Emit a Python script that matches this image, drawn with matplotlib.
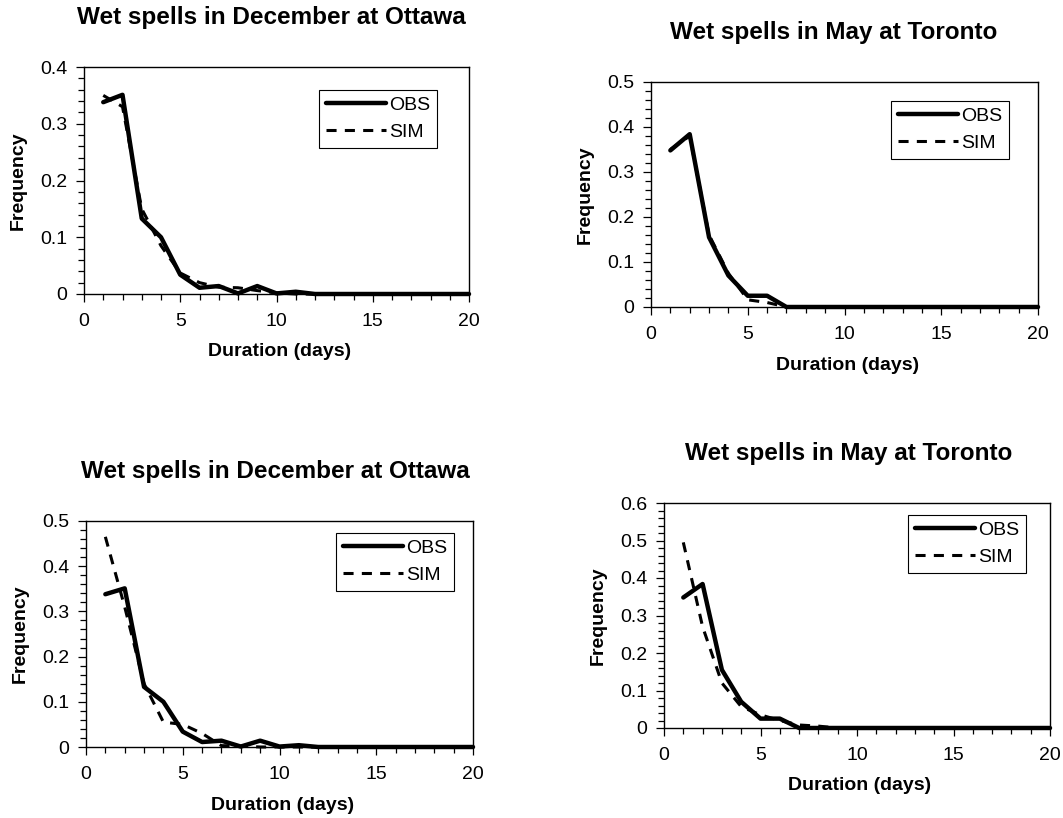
import matplotlib
matplotlib.use("Agg")
import matplotlib.pyplot as plt
from matplotlib.ticker import MultipleLocator, FuncFormatter

plt.rcParams['font.family'] = ['Liberation Sans', 'DejaVu Sans']

# ---------------- data ----------------
duration = list(range(1, 21))

dec_ottawa_obs = [0.338, 0.351, 0.133, 0.100, 0.034, 0.011, 0.014, 0.001, 0.014, 0.001,
                  0.004, 0, 0, 0, 0, 0, 0, 0, 0, 0]
dec_ottawa_sim_a = [0.350, 0.330, 0.150, 0.085, 0.037, 0.020, 0.012, 0.011, 0.006, 0.002,
                    0, 0, 0, 0, 0, 0, 0, 0, 0, 0]
may_toronto_obs = [0.348, 0.384, 0.155, 0.070, 0.025, 0.025, 0.0, 0, 0, 0,
                   0, 0, 0, 0, 0, 0, 0, 0, 0, 0]
may_toronto_sim_a = [0.350, 0.380, 0.160, 0.075, 0.016, 0.010, 0.0, 0, 0, 0,
                     0, 0, 0, 0, 0, 0, 0, 0, 0, 0]
dec_ottawa_sim_b = [0.465, 0.310, 0.140, 0.055, 0.050, 0.030, 0.003, 0.002, 0, 0,
                    0, 0, 0, 0, 0, 0, 0, 0, 0, 0]
may_toronto_sim_b = [0.495, 0.270, 0.120, 0.057, 0.035, 0.020, 0.008, 0.005, 0, 0,
                     0, 0, 0, 0, 0, 0, 0, 0, 0, 0]

titles = ["Wet spells in December at Ottawa", "Wet spells in May at Toronto",
          "Wet spells in December at Ottawa", "Wet spells in May at Toronto"]
obs_series = [dec_ottawa_obs, may_toronto_obs, dec_ottawa_obs, may_toronto_obs]
sim_series = [dec_ottawa_sim_a, may_toronto_sim_a, dec_ottawa_sim_b, may_toronto_sim_b]
y_max = [0.4, 0.5, 0.5, 0.6]
x_ticks = [0, 5, 10, 15, 20]

# ---------------- layout (pixels) ----------------
W, H = 1063, 818
# left, right, top, bottom of each plot area
boxes = [(84, 469, 67, 294), (651, 1038, 82, 307),
         (86, 473, 521, 747), (664, 1050, 503, 728)]
# legend frame: left, top (pixels)
leg_pos = [(319, 90), (891, 101), (336, 533), (908, 515)]
title_dx = [-5.5, -10.5, -4.5, -8]

fig = plt.figure(figsize=(W / 100, H / 100), dpi=100)


def fx(px):
    return px / W


def fy(py):
    return 1 - py / H


yfmt = FuncFormatter(lambda v, p: '0' if abs(v) < 1e-9 else f'{v:g}')

for i in range(4):
    L, R, T, B = boxes[i]
    ax = fig.add_axes([fx(L), fy(B), (R - L) / W, (B - T) / H])
    ax.plot(duration, obs_series[i], color='black', lw=3.2, label='OBS',
            solid_joinstyle='round', solid_capstyle='round', clip_on=False, zorder=3)
    sim_line, = ax.plot(duration, sim_series[i], color='black', lw=2.2, label='SIM',
                        clip_on=False, zorder=2)
    sim_line.set_dashes([3.3, 2.7])
    ax.set_xlim(0, 20)
    ax.set_ylim(0, y_max[i])
    ax.set_xticks(x_ticks)
    ax.xaxis.set_minor_locator(MultipleLocator(1))
    ax.yaxis.set_major_locator(MultipleLocator(0.1))
    ax.yaxis.set_minor_locator(MultipleLocator(0.02))
    ax.yaxis.set_major_formatter(yfmt)
    ax.tick_params(which='major', direction='out', length=6, width=0.9,
                   labelsize=14, pad=6, top=False, right=False)
    ax.tick_params(which='minor', direction='out', length=4, width=0.9,
                   top=False, right=False)
    ax.tick_params(axis='x', which='major', pad=8)
    for s in ax.spines.values():
        s.set_color('black')
        s.set_linewidth(1.0)

    # legend
    lx, ly = leg_pos[i]
    ax_x = (lx - L) / (R - L)
    ax_y = (B - ly) / (B - T)
    leg = ax.legend(loc='upper left', bbox_to_anchor=(ax_x, ax_y), borderaxespad=0,
                    fontsize=14, handlelength=3.1, handletextpad=0.15,
                    borderpad=0.34, labelspacing=0.48, fancybox=False,
                    framealpha=1, edgecolor='black')
    leg.get_frame().set_linewidth(0.8)

    # title
    cx = (L + R) / 2
    fig.text(fx(cx + title_dx[i]), fy(T - 43), titles[i], ha='center', va='baseline',
             fontsize=17.5, fontweight='bold')
    # axis labels
    fig.text(fx(cx + 3), fy(B + 58), 'Duration (days)', ha='center', va='center',
             fontsize=14, fontweight='bold')
    fig.text(fx(L - 66), fy((T + B) / 2), 'Frequency', ha='center', va='center',
             rotation=90, fontsize=14, fontweight='bold')

fig.savefig('out.png', dpi=100)
